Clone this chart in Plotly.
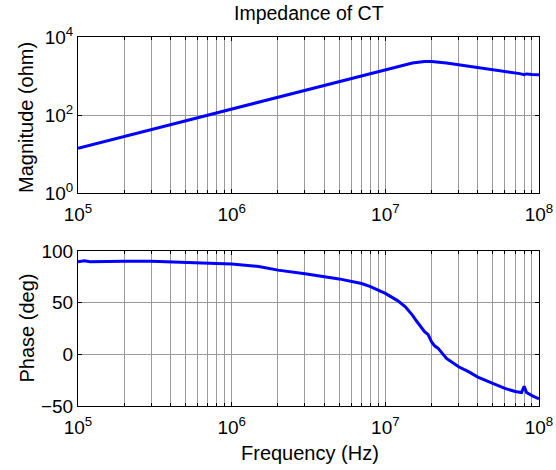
import plotly.graph_objects as go

# ---- data ----
freq_mag = [1e5, 1.5e5, 2e5, 3e5, 5e5, 7e5, 1e6, 1.5e6, 2e6, 3e6, 5e6, 7e6, 1e7,
            1.2e7, 1.5e7, 1.8e7, 2e7, 2.5e7, 3e7, 4e7, 5e7, 6e7, 7e7, 7.5e7, 8e7,
            8.3e7, 9e7, 1e8]
magnitude = [14, 21, 28, 42, 70, 100, 145, 215, 290, 435, 720, 1000, 1400,
             1750, 2150, 2350, 2350, 2150, 1950, 1650, 1450, 1300, 1200, 1150, 1080,
             1130, 1090, 1070]

freq_ph = [1e5, 1.1e5, 1.2e5, 1.5e5, 2e5, 3e5, 5e5, 7e5, 1e6, 1.5e6, 2e6, 3e6,
           5e6, 7e6, 8e6, 1e7, 1.2e7, 1.35e7, 1.45e7, 1.5e7, 1.6e7, 1.8e7, 1.9e7,
           2e7, 2.1e7, 2.2e7, 2.5e7, 3e7, 3.5e7, 4e7, 5e7, 6e7, 7e7, 7.7e7, 8e7,
           8.3e7, 9e7, 1e8]
phase = [89.5, 90.5, 89.5, 90, 90, 90, 89, 88.5, 87.5, 85, 81.5, 78,
         73, 68.5, 65.5, 59, 52, 46, 41, 38, 32, 22, 19,
         12, 8, 6, -4, -12, -17, -22, -28, -33, -36, -37, -31,
         -37, -40, -43]

x_tick_vals = [1e5, 1e6, 1e7, 1e8]
x_tick_text = ["10<sup>5</sup>", "10<sup>6</sup>", "10<sup>7</sup>", "10<sup>8</sup>"]
mag_tick_vals = [1, 100, 10000]
mag_tick_text = ["10<sup>0</sup>", "10<sup>2</sup>", "10<sup>4</sup>"]
phase_tick_vals = [-50, 0, 50, 100]

title_text = "Impedance of CT"
ylabel_top = "Magnitude (ohm)"
ylabel_bottom = "Phase (deg)"
xlabel = "Frequency (Hz)"

# ---- figure ----
FONT = "Liberation Sans, Arial, Helvetica, sans-serif"
W, H = 556, 470
x0, x1 = 78, 539
top_t, top_b = 37, 193
bot_t, bot_b = 251, 406

minor_x = []
for d in [1e5, 1e6, 1e7]:
    for m in range(2, 10):
        minor_x.append(m * d)

fig = go.Figure()
fig.add_trace(go.Scatter(x=freq_mag, y=magnitude, mode="lines",
                         line=dict(color="#0000ff", width=3), xaxis="x", yaxis="y",
                         showlegend=False))
fig.add_trace(go.Scatter(x=freq_ph, y=phase, mode="lines",
                         line=dict(color="#0000ff", width=3), xaxis="x2", yaxis="y2",
                         showlegend=False))

xcommon = dict(type="log", range=[5, 8], tickmode="array", tickvals=x_tick_vals,
               ticktext=x_tick_text, ticks="inside", ticklen=4, tickcolor="black",
               showline=True, linecolor="black", linewidth=1, mirror="ticks",
               showgrid=True, gridcolor="#9a9a9a", gridwidth=1, zeroline=False,
               automargin=False, ticklabelstandoff=4,
               minor=dict(tickmode="array", tickvals=minor_x, ticks="inside",
                          ticklen=3, tickcolor="black", showgrid=True,
                          gridcolor="#9a9a9a", gridwidth=1),
               tickfont=dict(family=FONT, size=19, color="black"),
               domain=[x0 / W, x1 / W])
ycommon = dict(ticks="inside", ticklen=4, tickcolor="black", showline=True,
               linecolor="black", linewidth=1, mirror="ticks", showgrid=True,
               gridcolor="#9a9a9a", gridwidth=1, zeroline=False, automargin=False,
               tickfont=dict(family=FONT, size=19, color="black"))

fig.update_layout(
    width=W, height=H,
    margin=dict(l=0, r=0, t=0, b=0),
    paper_bgcolor="white", plot_bgcolor="white",
    xaxis=dict(xcommon, anchor="y"),
    xaxis2=dict(xcommon, anchor="y2"),
    yaxis=dict(ycommon, type="log", range=[0, 4], tickmode="array",
               tickvals=mag_tick_vals, ticktext=mag_tick_text, anchor="x",
               domain=[1 - top_b / H, 1 - top_t / H]),
    yaxis2=dict(ycommon, range=[-50, 100], tickmode="array",
                tickvals=phase_tick_vals, anchor="x2",
                domain=[1 - bot_b / H, 1 - bot_t / H]),
    annotations=[
        dict(text=title_text, x=(x0 + x1) / 2 / W, y=1 - 13 / H, xref="paper",
             yref="paper", showarrow=False, xanchor="center", yanchor="middle",
             font=dict(family=FONT, size=19.5, color="black")),
        dict(text=ylabel_top, x=26 / W, y=1 - 118 / H, xref="paper",
             yref="paper", showarrow=False, textangle=-90, xanchor="center",
             yanchor="middle", font=dict(family=FONT, size=20, color="black")),
        dict(text=ylabel_bottom, x=26 / W, y=1 - (bot_t + bot_b) / 2 / H,
             xref="paper", yref="paper", showarrow=False, textangle=-90,
             xanchor="center", yanchor="middle",
             font=dict(family=FONT, size=20, color="black")),
        dict(text=xlabel, x=(x0 + x1) / 2 / W + 1 / W, y=1 - 453 / H, xref="paper",
             yref="paper", showarrow=False, xanchor="center", yanchor="middle",
             font=dict(family=FONT, size=20, color="black")),
    ],
)

fig.write_html("out.html", config={"displayModeBar": False},
               post_script="document.body.style.margin='0px';document.body.style.overflow='hidden';")
